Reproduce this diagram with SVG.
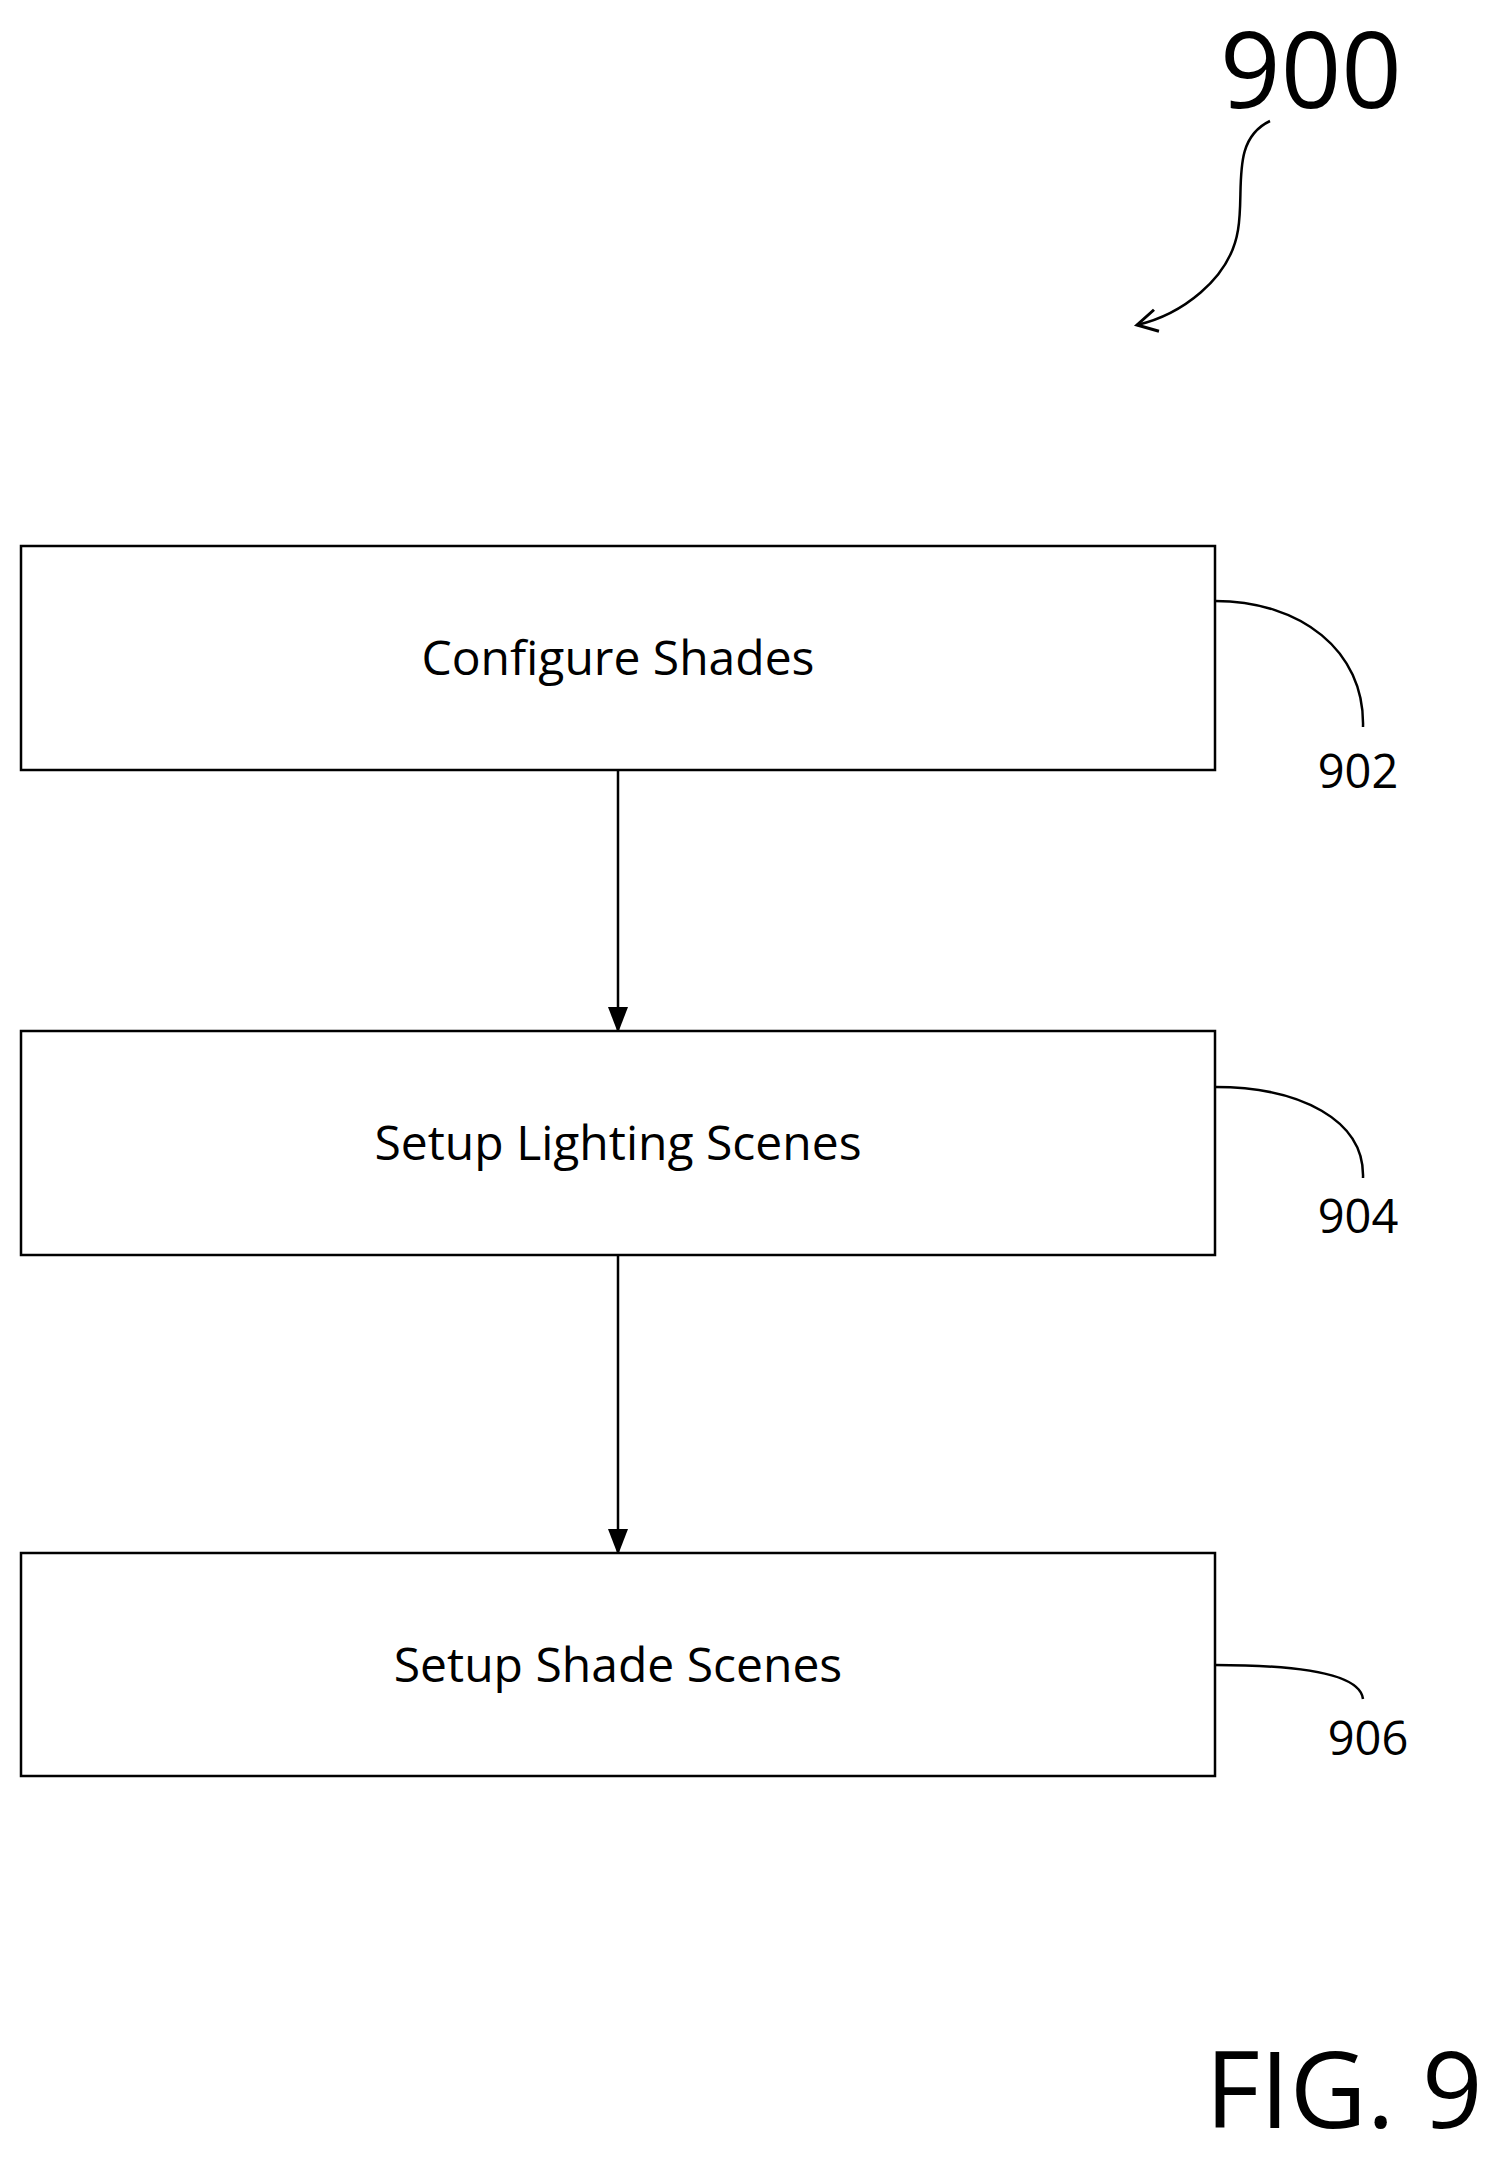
<svg xmlns="http://www.w3.org/2000/svg" width="1510" height="2166" viewBox="0 0 1510 2166">
<style>
.box{fill:#fff;stroke:#000;stroke-width:2.5}
.t{font-family:"Open Sans","Liberation Sans",sans-serif;font-size:48px;text-anchor:middle;fill:#000}
.n{font-family:"Open Sans","Liberation Sans",sans-serif;font-size:47px;text-anchor:middle;fill:#000}
.big{font-family:"Open Sans","Liberation Sans",sans-serif;font-size:106px;text-anchor:middle;fill:#000}
.ln{fill:none;stroke:#000;stroke-width:2.5}
</style>
<defs>
<marker id="ah2" markerWidth="26" markerHeight="26" refX="22" refY="13" orient="auto" markerUnits="userSpaceOnUse" viewBox="0 0 26 26"><path d="M2,2 L22,13 L2,24" fill="none" stroke="#000" stroke-width="3"/></marker>
<marker id="ah3" markerWidth="26" markerHeight="26" refX="24" refY="13" orient="auto" markerUnits="userSpaceOnUse" viewBox="0 0 26 26"><path d="M0,3 L26,13 L0,23 z"/></marker></defs>
<text class="big" x="1311" y="108">900</text>
<text class="big" x="1344" y="2128">FIG. 9</text>
<g id="connectors">
<path class="ln" d="M1270,121 C1230,140 1245,190 1238,230 C1230,280 1180,315 1137,325" marker-end="url(#ah2)"/>
<line class="ln" x1="618" y1="770" x2="618" y2="1031" marker-end="url(#ah3)"/>
<line class="ln" x1="618" y1="1255" x2="618" y2="1553" marker-end="url(#ah3)"/>
<path class="ln" d="M1215,601 C1300,601 1365,650 1363,727"/>
<path class="ln" d="M1215,1087 C1300,1087 1365,1120 1363,1178"/>
<path class="ln" d="M1215,1665 C1290,1665 1360,1672 1363,1699"/>
</g>
<g id="n902"><rect class="box" x="21" y="546" width="1194" height="224"/><text class="t" x="618" y="675">Configure Shades</text><text class="n" x="1358" y="788">902</text></g>
<g id="n904"><rect class="box" x="21" y="1031" width="1194" height="224"/><text class="t" x="618" y="1160">Setup Lighting Scenes</text><text class="n" x="1358" y="1233">904</text></g>
<g id="n906"><rect class="box" x="21" y="1553" width="1194" height="223"/><text class="t" x="618" y="1682">Setup Shade Scenes</text><text class="n" x="1368" y="1755">906</text></g>
</svg>
